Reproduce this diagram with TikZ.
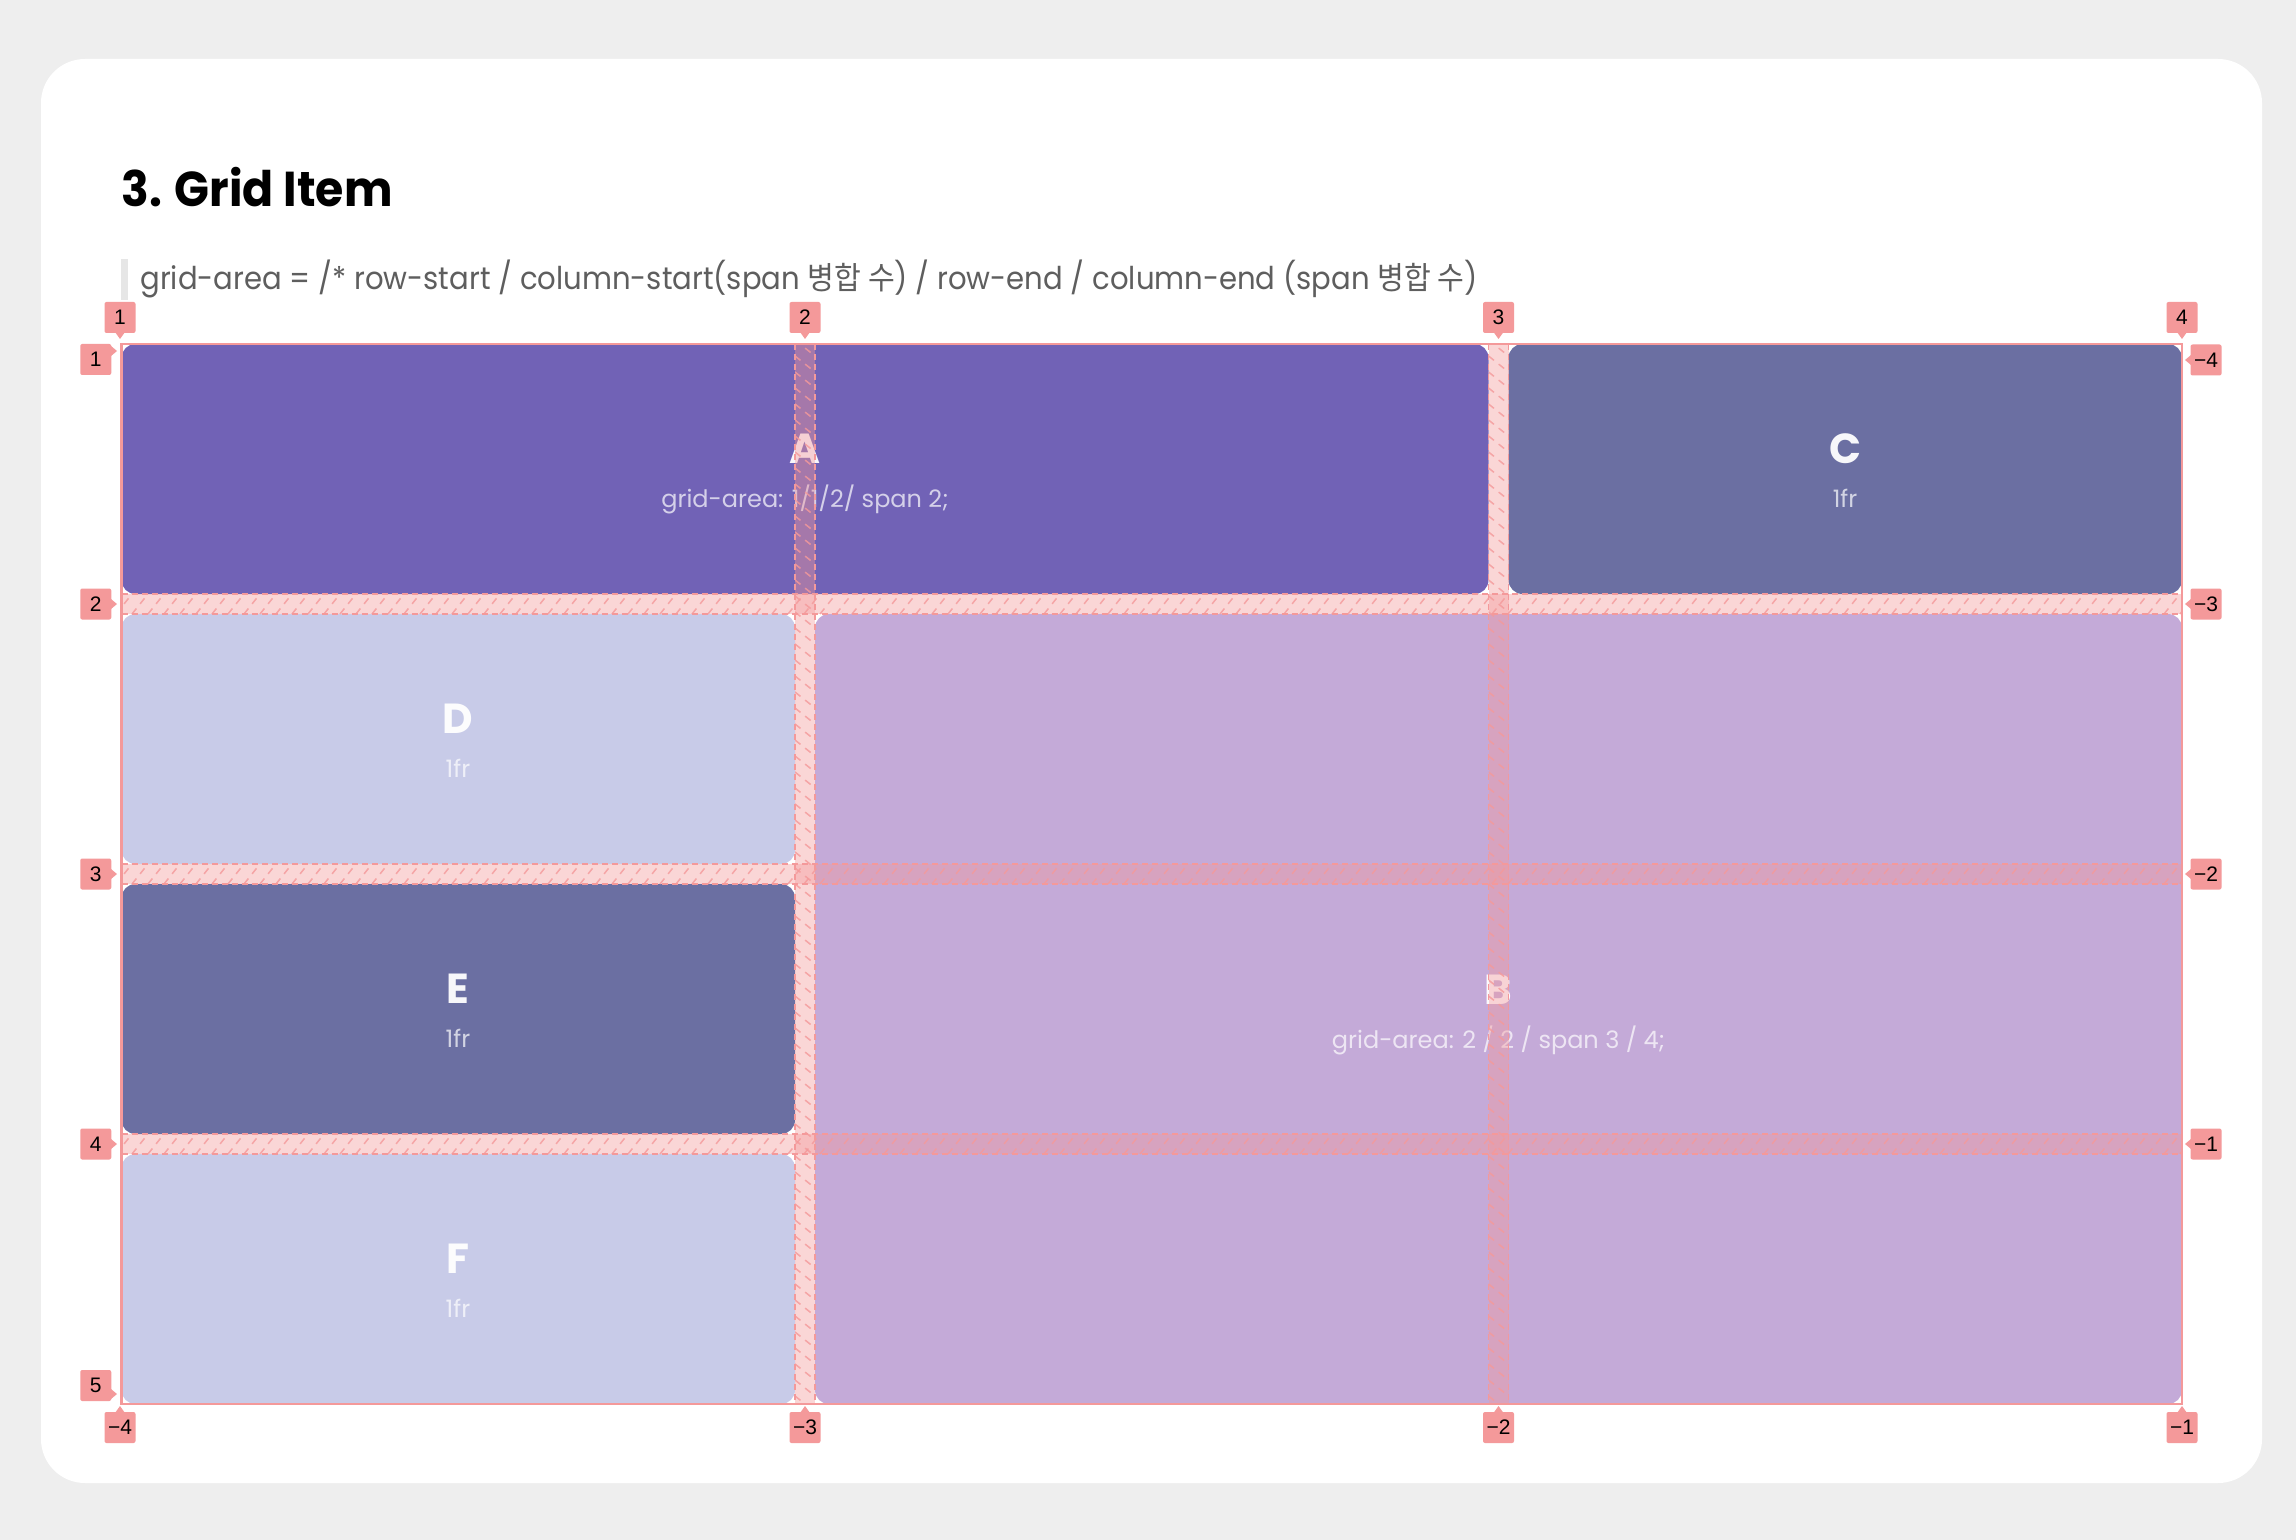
\documentclass[tikz,border=0pt]{standalone}
\usepackage{fontspec}
\setmainfont{Poppins}
\newfontfamily\titlefont[FakeStretch=0.935]{Poppins}
\newfontfamily\syntaxfont[FakeStretch=0.927]{Poppins}
\newfontfamily\krfont[FakeStretch=0.927]{Noto Sans CJK KR}
\newfontfamily\tagfont{Liberation Sans}
\usetikzlibrary{calc}
\definecolor{pagegray}{HTML}{EEEEEE}
\definecolor{bargray}{HTML}{E6E6E6}
\definecolor{subgray}{HTML}{5E5E5E}
\definecolor{itemA}{HTML}{7162B6}
\definecolor{itemC}{HTML}{6B6FA2}
\definecolor{itemD}{HTML}{C8CBE8}
\definecolor{itemB}{HTML}{C4AAD8}
\definecolor{gridpink}{HTML}{F4999A}

\begin{document}
\begin{tikzpicture}[x=0.5pt, y=-0.5pt,
    item/.style={rounded corners=7pt},
    letter/.style={anchor=base, inner sep=0pt, text=white, text opacity=0.95, font=\fontsize{21}{21}\selectfont\bfseries},
    note/.style={anchor=base, inner sep=0pt, text=white, text opacity=0.7, font=\fontsize{12}{12}\selectfont},
    gapfill/.style={fill=gridpink, fill opacity=0.4},
    gapedge/.style={draw=gridpink, line width=0.8pt, dash pattern=on 3pt off 2pt},
    hatch/.style={gridpink, opacity=0.8, line width=0.75pt, dash pattern=on 3.5pt off 3pt},
    numtag/.style={fill=gridpink, rounded corners=1pt, minimum width=15.5pt, minimum height=15.5pt, inner sep=0pt, text=black, font=\tagfont\fontsize{10.5}{10.5}\selectfont}]
    \fill[pagegray] (0,0) rectangle (2296,1540);
    \fill[white, rounded corners=22pt] (41,59) rectangle (2262,1483);

    \node[anchor=base west, inner sep=0pt, font=\titlefont\fontsize{24.5}{24.5}\selectfont\bfseries] (title) at (121,207) {3. Grid Item};
    \fill[bargray] (121,259) rectangle (128,300);
    \node[anchor=base west, inner sep=0pt, text=subgray, font=\syntaxfont\fontsize{15.7}{16}\selectfont] (syntax) at (140,290)
        {grid-area = /* row-start / column-start(span {\krfont 병합 수}) / row-end / column-end (span {\krfont 병합 수})};

    % grid items
    \fill[itemA, item] (121.5,344) rectangle (1488.5,594);
    \node[letter] (A) at (805,463) {A};
    \node[note] (Anote) at (805,507) {grid-area: 1/1/2/ span 2;};
    \fill[itemC, item] (1508.5,344) rectangle (2182,594);
    \node[letter] (C) at (1845,463) {C};
    \node[note] (Cnote) at (1845,507) {1fr};
    \fill[itemD, item] (121.5,614) rectangle (795,864);
    \node[letter] (D) at (458,733) {D};
    \node[note] (Dnote) at (458,777) {1fr};
    \fill[itemC, item] (121.5,884) rectangle (795,1134);
    \node[letter] (E) at (458,1003) {E};
    \node[note] (Enote) at (458,1047) {1fr};
    \fill[itemD, item] (121.5,1154) rectangle (795,1404);
    \node[letter] (F) at (458,1273) {F};
    \node[note] (Fnote) at (458,1317) {1fr};
    \fill[itemB, item] (815,614) rectangle (2182,1404);
    \node[letter] (B) at (1498.5,1004) {B};
    \node[note] (Bnote) at (1498.5,1048) {grid-area: 2 / 2 / span 3 / 4;};

    % gaps
    \foreach \y in {594,864,1134} {
        \fill[gapfill] (121.5,\y) rectangle (2182,\y+20);
        \begin{scope}
            \clip (121.5,\y) rectangle (2182,\y+20);
            \foreach \x in {100,116,...,2190}
                \draw[hatch] (\x,\y+20) -- ++(16,-20);
        \end{scope}
        \draw[gapedge] (121.5,\y) -- (2182,\y) (121.5,\y+20) -- (2182,\y+20);
    }
    \foreach \x in {795,1488.5} {
        \fill[gapfill] (\x,344) rectangle (\x+20,1404);
        \begin{scope}
            \clip (\x,344) rectangle (\x+20,1404);
            \foreach \y in {324,340,...,1410}
                \draw[hatch] (\x,\y) -- ++(20,16);
        \end{scope}
        \draw[gapedge] (\x,344) -- (\x,1404) (\x+20,344) -- (\x+20,1404);
    }
    \draw[gridpink, line width=1.2pt] (121.5,344) rectangle (2182,1404);

    % line numbers
    \foreach \x/\t in {120/1, 805/2, 1498.5/3, 2182/4} {
        \fill[gridpink] (\x-5,332) -- (\x+5,332) -- (\x,339) -- cycle;
        \node[numtag] (top\t) at (\x,317.5) {\t};
    }
    \foreach \y/\p/\t in {359.5/351/1, 604/604/2, 874/874/3, 1144/1144/4, 1385.5/1394/5} {
        \fill[gridpink] (111,\p-5) -- (111,\p+5) -- (117,\p) -- cycle;
        \node[numtag] (left\t) at (95.75,\y) {\t};
    }
    \foreach \y/\t in {360/4, 604/3, 874/2, 1144/1} {
        \fill[gridpink] (2191,\y-5) -- (2191,\y+5) -- (2185,\y) -- cycle;
        \node[numtag] (right\t) at (2206,\y) {−\t};
    }
    \foreach \x/\t in {120/4, 805/3, 1498.5/2, 2182/1} {
        \fill[gridpink] (\x-5,1413) -- (\x+5,1413) -- (\x,1406) -- cycle;
        \node[numtag] (bottom\t) at (\x,1427.5) {−\t};
    }
\end{tikzpicture}
\end{document}
